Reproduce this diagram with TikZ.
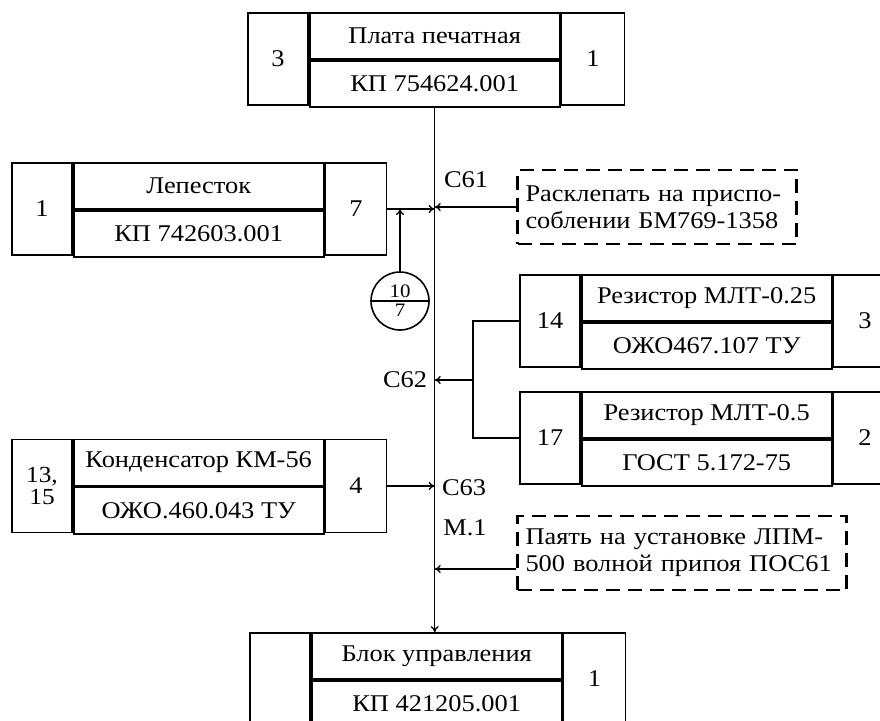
\documentclass[tikz,border=0pt]{standalone}
\usepackage{fontspec}
\setmainfont{Liberation Serif}[FakeStretch=1.1]
\usetikzlibrary{arrows.meta,positioning,shapes.multipart}

\begin{document}
\begin{tikzpicture}[
  x=1pt, y=-1pt,
  font=\fontsize{24}{27}\selectfont,
  numcell/.style={draw, line width=1.7pt, minimum width=60pt, minimum height=92pt, inner sep=0pt},
  namecell/.style={draw, line width=1.7pt, minimum width=250pt, minimum height=46pt, inner sep=0pt},
  qtycell/.style={numcell, minimum width=63pt},
  note/.style={draw, line width=2.2pt, dash pattern=on 14pt off 8pt, align=left, inner xsep=8pt, minimum height=74pt},
  lbl/.style={inner sep=0pt},
  arr/.style={-{To[length=6pt,width=8pt]}, line width=1.3pt}
]
\clip (0,0) rectangle (880,720);

% top assembly
\node[numcell] (p-num) at (278,59) {3};
\node[namecell, anchor=north west] (p-name) at (p-num.north east) {Плата печатная};
\node[namecell, below=0pt of p-name] (p-code) {КП 754624.001};
\node[qtycell, anchor=north west] (p-qty) at (p-name.north east) {1};
\coordinate (trunk) at (p-code.south);

% petal
\node[numcell] (l-num) at (42,209) {1};
\node[namecell, anchor=north west] (l-name) at (l-num.north east) {Лепесток};
\node[namecell, below=0pt of l-name] (l-code) {КП 742603.001};
\node[qtycell, minimum width=61pt, anchor=north west] (l-qty) at (l-name.north east) {7};

% resistors
\node[numcell] (r1-num) at (550,321) {14};
\node[namecell, anchor=north west] (r1-name) at (r1-num.north east) {Резистор МЛТ-0.25};
\node[namecell, below=0pt of r1-name] (r1-code) {ОЖО467.107 ТУ};
\node[qtycell, anchor=north west] (r1-qty) at (r1-name.north east) {3};

\node[numcell] (r2-num) at (550,438) {17};
\node[namecell, anchor=north west] (r2-name) at (r2-num.north east) {Резистор МЛТ-0.5};
\node[namecell, below=0pt of r2-name] (r2-code) {ГОСТ 5.172-75};
\node[qtycell, anchor=north west] (r2-qty) at (r2-name.north east) {2};

% capacitor
\node[numcell, minimum height=93pt, align=center, font=\fontsize{23}{22}\selectfont] (k-num) at (42,486) {13,\\15};
\node[namecell, anchor=north west] (k-name) at (k-num.north east) {Конденсатор КМ-56};
\node[namecell, minimum height=47pt, below=0pt of k-name] (k-code) {ОЖО.460.043 ТУ};
\node[qtycell, minimum height=93pt, minimum width=61pt, anchor=north west] (k-qty) at (k-name.north east) {4};

% control unit
\node[numcell] (b-num) at (280,679) {};
\node[namecell, anchor=north west] (b-name) at (b-num.north east) {Блок управления};
\node[namecell, below=0pt of b-name] (b-code) {КП 421205.001};
\node[qtycell, minimum width=62pt, anchor=north west] (b-qty) at (b-name.north east) {1};

% notes
\node[note, text width=263pt] (note1) at (657,207) {Расклепать на приспо-\\соблении БМ769-1358};
\node[note, text width=313pt] (note2) at (682,553) {Паять на установке ЛПМ-\\500 волной припоя ПОС61};

% mark
\node[circle split, draw, line width=1.6pt, minimum size=58pt, inner sep=2.5pt, font=\fontsize{19}{20}\selectfont] (mark) at (400,301) {10 \nodepart{lower} 7};

% labels
\node[lbl] (c61) at (466,180) {С61};
\node[lbl] (c62) at (405,380) {С62};
\node[lbl] (c63) at (464,488) {С63};
\node[lbl] (m1) at (465,528) {М.1};

% connectors
\draw[arr] (trunk) -- (trunk |- b-name.north);
\draw[arr] (l-qty.east) -- (l-qty.east -| trunk);
\draw[arr] (note1.west) -- (note1.west -| trunk);
\draw[arr] (mark.north) -- (mark.north |- l-qty.east);
\coordinate (bus) at (473,380);
\draw[line width=1.3pt] (r1-num.west) -| (bus) |- (r2-num.west);
\draw[arr] (bus) -- (bus -| trunk);
\draw[arr] (k-qty.east) -- (k-qty.east -| trunk);
\draw[arr] ([yshift=-16pt]note2.west) -- ([yshift=-16pt]note2.west -| trunk);
\end{tikzpicture}
\end{document}
